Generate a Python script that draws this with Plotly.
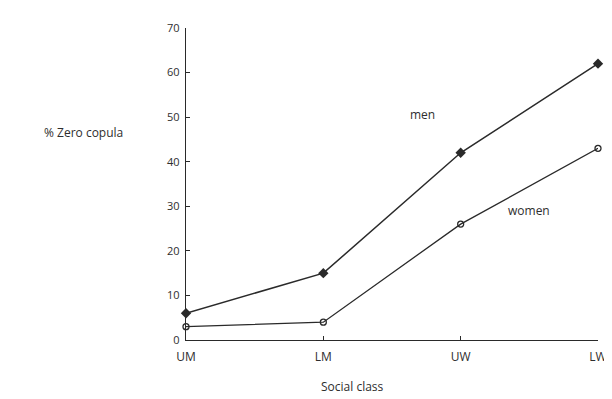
import plotly.graph_objects as go

categories = ["UM", "LM", "UW", "LW"]
men = [6, 15, 42, 62]
women = [3, 4, 26, 43]
y_ticks = [0, 10, 20, 30, 40, 50, 60, 70]

xpos = list(range(len(categories)))
ink = "#2a2a2a"
txt = "#2e2e2e"
font = dict(family="Open Sans, DejaVu Sans, sans-serif", size=12, color=txt)

fig = go.Figure()
fig.add_trace(go.Scatter(
    x=xpos, y=women, mode="lines+markers", name="women",
    line=dict(color=ink, width=1.3),
    marker=dict(symbol="circle-open", size=6, color=ink, line=dict(width=1.3)),
    cliponaxis=False, showlegend=False))
fig.add_trace(go.Scatter(
    x=xpos, y=men, mode="lines+markers", name="men",
    line=dict(color=ink, width=1.5),
    marker=dict(symbol="diamond", size=8, color=ink),
    cliponaxis=False, showlegend=False))

fig.update_layout(
    width=612, height=399,
    margin=dict(l=178, r=22, t=20, b=67),
    paper_bgcolor="white", plot_bgcolor="white",
    font=font,
    xaxis=dict(range=[0, 3], tickvals=xpos, ticktext=categories,
               showgrid=False, zeroline=False, showline=True,
               linecolor=ink, linewidth=1.3, ticks="inside", ticklen=4,
               tickcolor=ink, ticklabelstandoff=5,
               tickfont=dict(size=12, color=txt)),
    yaxis=dict(range=[0, 70], tickvals=y_ticks,
               showgrid=False, zeroline=False, showline=True,
               linecolor=ink, linewidth=1.3, ticks="inside", ticklen=4,
               tickcolor=ink, ticklabelstandoff=3,
               tickfont=dict(size=11, color=txt)),
    annotations=[
        dict(text="% Zero copula", xref="paper", yref="paper", x=-0.25, y=0.665,
             xanchor="center", yanchor="middle", showarrow=False,
             font=dict(size=12, color=txt)),
        dict(text="Social class", xref="paper", yref="paper", x=0.405, y=-0.15,
             xanchor="center", yanchor="middle", showarrow=False,
             font=dict(size=12, color=txt)),
        dict(text="men", x=1.72, y=50.5, xref="x", yref="y", showarrow=False,
             font=dict(size=12, color=txt)),
        dict(text="women", x=2.5, y=29, xref="x", yref="y", showarrow=False,
             font=dict(size=12, color=txt)),
    ],
)

fig.write_html("out.html")
